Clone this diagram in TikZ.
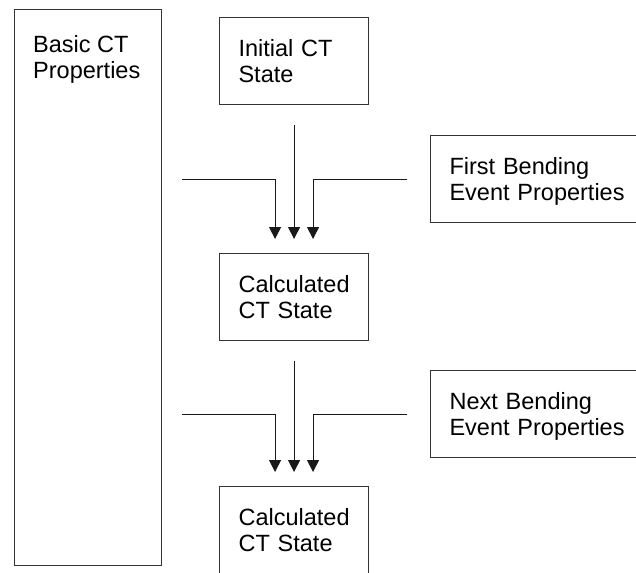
\documentclass[tikz,border=0pt]{standalone}
\usepackage{fontspec}
\setmainfont{Liberation Sans}
\usetikzlibrary{arrows.meta}

\begin{document}
\begin{tikzpicture}[
  x=1pt,y=-1pt,
  box/.style={draw=black!80,line width=1.1pt,anchor=north west,inner sep=0pt},
  state/.style={box,minimum width=149pt,minimum height=87pt,text width=111pt,inner xsep=19pt,text depth=26pt,align=left,font=\fontsize{23.5}{26}\selectfont},
  event/.style={state,minimum width=230pt,text width=192pt},
  lbl/.style={anchor=north west,inner sep=0pt,align=left,font=\fontsize{23.5}{26}\selectfont},
  arr/.style={-{Triangle[width=12pt,length=12pt]},line width=1pt,draw=black!90,shorten <=20pt,shorten >=14pt}
]
  \useasboundingbox (0,0) rectangle (636,572);
  \clip (0,0) rectangle (636,572);

  % Boxes
  \node[box,minimum width=147pt,minimum height=556pt] (basic) at (14,9) {};
  \node[lbl] (basiclbl) at ([shift={(19,26)}]basic.north west) {Basic CT\\Properties};
  \node[state] (init) at (219,17) {Initial CT\\State};
  \node[state] (calc1) at (219,253) {Calculated\\CT State};
  \node[state] (calc2) at (219,486) {Calculated\\CT State};
  \node[event] (first) at (430,135) {First Bending\\Event Properties};
  \node[event] (next) at (430,370) {Next Bending\\Event Properties};

  % Arrows, first step
  \draw[arr] (init.south) -- (calc1.north);
  \draw[arr] (basic.east |- first.west) -| ([xshift=-19pt]calc1.north);
  \draw[arr,shorten <=23pt] (first.west) -| ([xshift=19pt]calc1.north);

  % Arrows, next step
  \draw[arr] (calc1.south) -- (calc2.north);
  \draw[arr] (basic.east |- next.west) -| ([xshift=-19pt]calc2.north);
  \draw[arr,shorten <=23pt] (next.west) -| ([xshift=19pt]calc2.north);
\end{tikzpicture}
\end{document}
